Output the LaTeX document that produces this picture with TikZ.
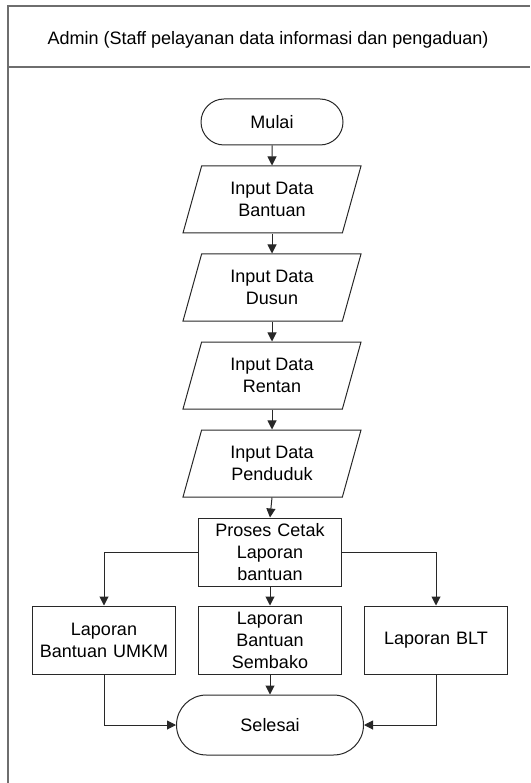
\documentclass[tikz,border=0pt]{standalone}
\usepackage{fontspec}
\setmainfont{Liberation Sans}
\usetikzlibrary{shapes.geometric,shapes.misc,positioning,arrows.meta}
\definecolor{linecolor}{RGB}{40,40,40}
\definecolor{framecolor}{RGB}{110,110,110}

\begin{document}
\begin{tikzpicture}[%
    x=1pt, y=1pt,
    >={Triangle[length=9pt,width=9pt]},   % filled heads as in the flowchart
    node distance=88pt and 166pt,          % column and row spacing
    every node/.style={font=\fontsize{18}{22}\selectfont},
    ]
\tikzset{
  base/.style={draw=linecolor, line width=1pt, on grid, align=center, inner sep=1pt},
  term/.style={base, rounded rectangle, minimum width=144pt, minimum height=46pt},
  io/.style={base, trapezium, trapezium left angle=63, trapezium right angle=117,
    trapezium stretches body, minimum width=178pt, minimum height=67pt},
  proc/.style={base, rectangle, minimum width=143pt, minimum height=68pt, text width=135pt},
  norm/.style={draw=linecolor, line width=1pt, ->},
}
\useasboundingbox (0,0) rectangle (530,-783);

% swimlane frame
\draw [framecolor, line width=1.5pt] (8,-783) -- (8,-6) -- (530,-6);
\draw [framecolor, line width=1.5pt] (8,-67) -- (530,-67);
\node (lane) at (268,-40) {Admin (Staff pelayanan data informasi dan pengaduan)};

\node [term] (p0) at (272,-122) {Mulai};
\node [io, below=77.5pt of p0] (p1) {Input Data\\Bantuan};
\node [io, below=of p1] (p2) {Input Data\\Dusun};
\node [io, below=of p2] (p3) {Input Data\\Rentan};
\node [io, below=of p3] (p4) {Input Data\\Penduduk};
\node [proc, below=88.5pt of p4, xshift=-2pt] (p5) {Proses Cetak\\Laporan\\bantuan};

\node [proc, below=of p5] (p6) {Laporan\\Bantuan\\Sembako};
\node [proc, left=of p6] (p7) {Laporan\\Bantuan UMKM};
\node [proc, right=of p6] (p8) {Laporan BLT};

\node [term, below=85pt of p6, minimum width=189pt, minimum height=60pt] (p9) {Selesai};

% connect
\draw [norm] (p0.south) -- (p1.north);
\draw [norm] (p1.south) -- (p2.north);
\draw [norm] (p2.south) -- (p3.north);
\draw [norm] (p3.south) -- (p4.north);
\draw [norm] (p4.south) -- (p5.north);
\draw [norm] (p5.west) -| (p7.north);
\draw [norm] (p5.south) -- (p6.north);
\draw [norm] (p5.east) -| (p8.north);
\draw [norm] (p6.south) -- (p9.north);
\draw [norm] (p7.south) |- (p9.west);
\draw [norm] (p8.south) |- (p9.east);

\end{tikzpicture}
\end{document}
